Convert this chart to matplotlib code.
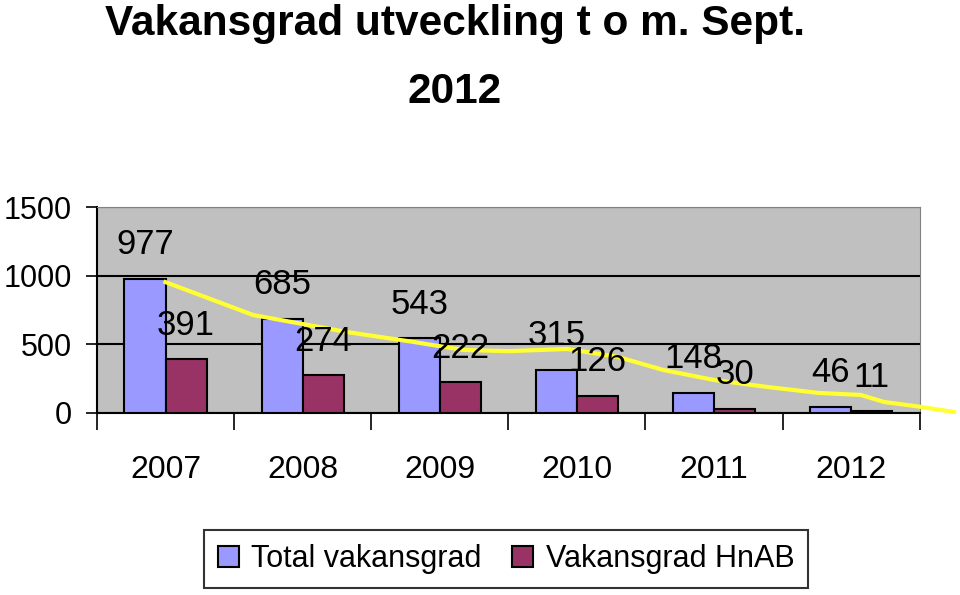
import matplotlib
matplotlib.use("Agg")
from matplotlib import pyplot as plt
import numpy as np

years = ['2007', '2008', '2009', '2010', '2011', '2012']
total = [977, 685, 543, 315, 148, 46]
hnab = [391, 274, 222, 126, 30, 11]

# hand drawn yellow trend line (x in category units, y in values)
trend_x = [0.0, 0.64, 1.32, 1.81, 2.17, 2.5, 2.93, 3.30, 3.63, 4.0, 4.39, 4.76, 5.07, 5.24, 5.51, 5.75]
trend_y = [953, 713, 590, 517, 459, 450, 466, 408, 313, 240, 189, 146, 131, 80, 44, 7]

plt.rcParams['font.family'] = ['Liberation Sans Narrow', 'Liberation Sans', 'DejaVu Sans']

fig = plt.figure(figsize=(9.6, 5.95), dpi=100)
ax = fig.add_axes([0.101, 0.306, 0.857, 0.346])
ax.set_facecolor('#C0C0C0')

x = np.arange(len(years))
w = 0.3
ax.bar(x - w / 2, total, w, color='#9999FF', edgecolor='black', linewidth=1.5,
       label='Total vakansgrad', zorder=3)
ax.bar(x + w / 2, hnab, w, color='#993366', edgecolor='black', linewidth=1.5,
       label='Vakansgrad HnAB', zorder=3)

for i in range(len(years)):
    ax.annotate(str(total[i]), (x[i] - w / 2, total[i]), xytext=(0, 34),
                textcoords='offset pixels', ha='center', va='center', fontsize=25, zorder=6)
    ax.annotate(str(hnab[i]), (x[i] + w / 2, hnab[i]), xytext=(0, 34),
                textcoords='offset pixels', ha='center', va='center', fontsize=25, zorder=6)

ax.plot(trend_x, trend_y, color='#FFFF33', linewidth=3, clip_on=False, zorder=5)

ax.set_xlim(-0.5, 5.5)
ax.set_ylim(0, 1500)
ax.set_yticks([0, 500, 1000, 1500])
ax.yaxis.grid(True, color='black', linewidth=1.5, zorder=1)
ax.set_axisbelow(True)

ax.set_xticks(np.arange(-0.5, 6, 1))
ax.set_xticklabels([])
ax.set_xticks(x, minor=True)
ax.set_xticklabels(years, minor=True)
ax.tick_params(axis='x', which='major', length=12, width=1.2, direction='out')
ax.tick_params(axis='x', which='minor', length=0, pad=30, labelsize=23)
ax.tick_params(axis='y', length=8, width=1.2, labelsize=22, pad=10)

ax.spines['left'].set_color('black')
ax.spines['left'].set_linewidth(1.5)
ax.spines['bottom'].set_color('black')
ax.spines['bottom'].set_linewidth(1.5)
ax.spines['top'].set_color('#808080')
ax.spines['right'].set_color('#808080')

fig.text(0.474, 0.993, 'Vakansgrad utveckling t o m. Sept.\n2012', ha='center', va='top',
         fontsize=30.5, fontweight='bold', linespacing=1.9)

leg = fig.legend(loc='center', bbox_to_anchor=(0.527, 0.0605), ncol=2, fontsize=22,
                 frameon=True, fancybox=False, edgecolor='black', handlelength=0.7,
                 handleheight=0.7, handletextpad=0.4, columnspacing=1.0, borderpad=0.45)
leg.get_frame().set_linewidth(1.5)

fig.savefig('out.png', dpi=100)
